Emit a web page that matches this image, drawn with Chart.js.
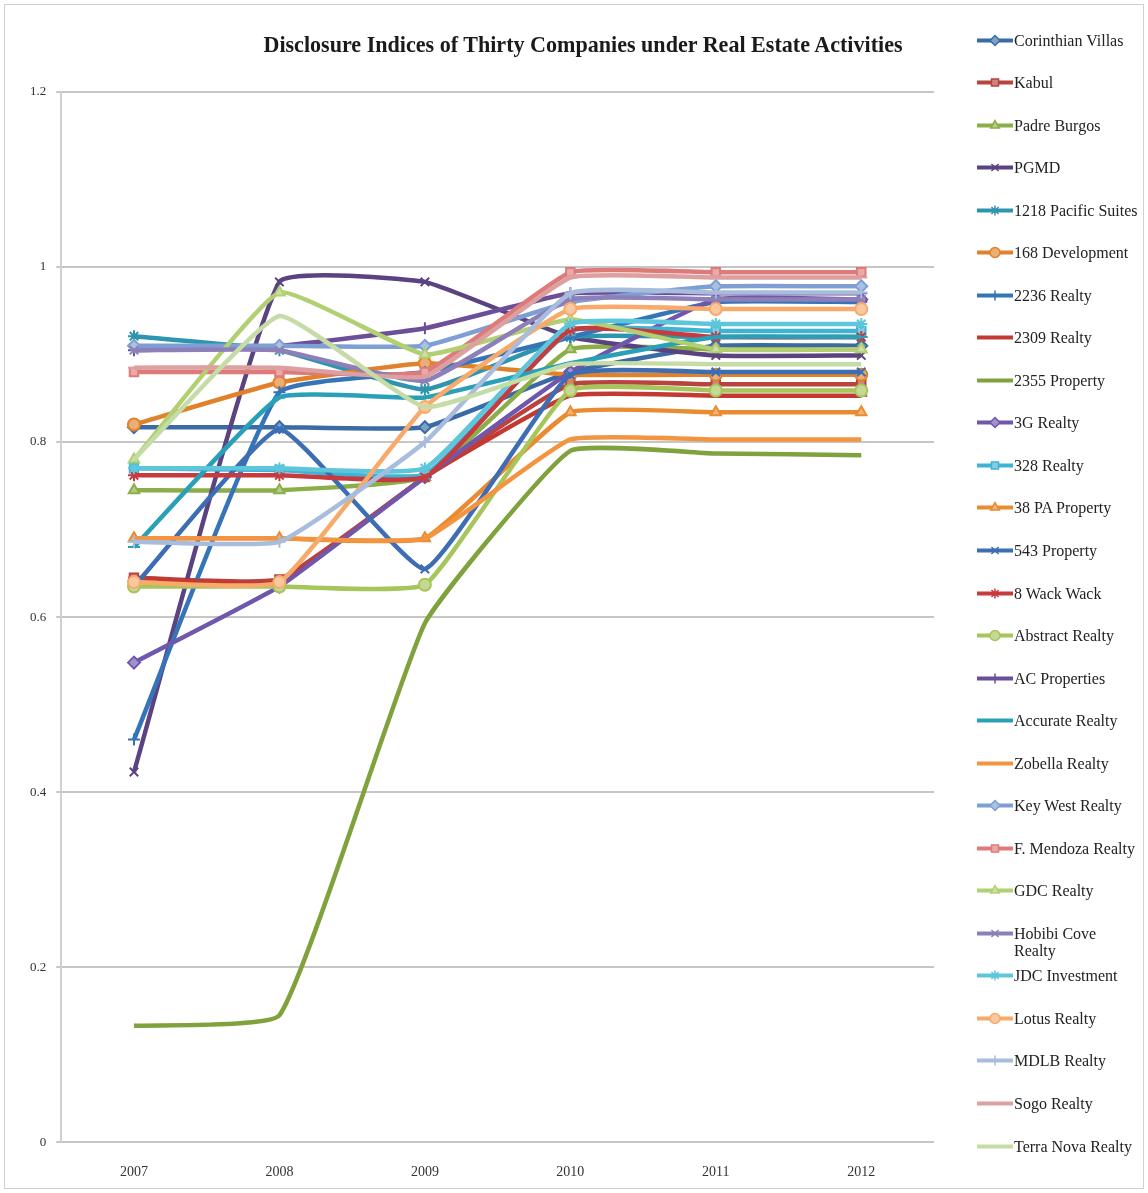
<!DOCTYPE html>
<html lang="en">
  <head>
    <meta charset="UTF-8" />
    <title>Disclosure Indices</title>
    <script src="https://cdn.jsdelivr.net/npm/chart.js"></script>
    <style>
      body {
        margin: 0;
        background: #fff;
        font-family: "Liberation Serif", "DejaVu Serif", serif;
      }
      .frame {
        position: absolute;
        left: 4px;
        top: 4px;
        width: 1138px;
        height: 1183px;
        border: 1px solid #d0d0d0;
      }
      #grafico {
        position: absolute;
        left: 0;
        top: 0;
      }
      .titulo {
        position: absolute;
        left: 233px;
        top: 31px;
        width: 700px;
        text-align: center;
        font-weight: bold;
        font-size: 24px;
        color: #1a1a1a;
        white-space: nowrap;
        transform: scaleX(0.92);
      }
      .item {
        position: absolute;
        left: 976px;
        font-size: 16px;
        line-height: 17px;
        color: #222;
        white-space: pre;
      }
      .item canvas {
        position: absolute;
        left: 0;
        top: 0;
      }
      .item span {
        display: block;
        margin-left: 38px;
      }
    </style>
  </head>
  <body>
    <div class="frame"></div>
    <canvas id="grafico" width="1148" height="1193"></canvas>
    <div class="titulo">Disclosure Indices of Thirty Companies under Real Estate Activities</div>
    <div id="legenda"></div>

    <script>
      const anos = ["2007", "2008", "2009", "2010", "2011", "2012"];
      const ticksY = [0, 0.2, 0.4, 0.6, 0.8, 1, 1.2];

      const empresas = [
        "Corinthian Villas", "Kabul", "Padre Burgos", "PGMD",
        "1218 Pacific Suites", "168 Development", "2236 Realty",
        "2309 Realty", "2355 Property", "3G Realty", "328 Realty",
        "38 PA Property", "543 Property", "8 Wack Wack", "Abstract Realty",
        "AC Properties", "Accurate Realty", "Zobella Realty",
        "Key West Realty", "F. Mendoza Realty", "GDC Realty",
        "Hobibi Cove\nRealty", "JDC Investment", "Lotus Realty",
        "MDLB Realty", "Sogo Realty", "Terra Nova Realty",
      ];

      // indices por empresa, 2007..2012
      const corinthianVillas = [0.817, 0.817, 0.817, 0.88, 0.91, 0.91];
      const kabul = [0.645, 0.643, 0.76, 0.866, 0.866, 0.866];
      const padreBurgos = [0.745, 0.745, 0.76, 0.906, 0.906, 0.906];
      const pgmd = [0.423, 0.983, 0.983, 0.92, 0.899, 0.899];
      const pacificSuites = [0.921, 0.905, 0.86, 0.92, 0.92, 0.92];
      const development168 = [0.82, 0.868, 0.89, 0.877, 0.877, 0.877];
      const realty2236 = [0.46, 0.857, 0.88, 0.92, 0.96, 0.96];
      const realty2309 = [0.645, 0.64, 0.76, 0.853, 0.853, 0.853];
      const property2355 = [0.133, 0.145, 0.593, 0.79, 0.787, 0.785];
      const realty3g = [0.548, 0.635, 0.76, 0.88, 0.963, 0.963];
      const realty328 = [0.77, 0.768, 0.763, 0.927, 0.927, 0.927];
      const paProperty38 = [0.69, 0.69, 0.69, 0.834, 0.834, 0.834];
      const property543 = [0.635, 0.815, 0.655, 0.877, 0.88, 0.88];
      const wackWack = [0.762, 0.762, 0.76, 0.928, 0.92, 0.92];
      const abstractRealty = [0.635, 0.635, 0.637, 0.859, 0.859, 0.859];
      const acProperties = [0.905, 0.91, 0.93, 0.97, 0.97, 0.97];
      const accurateRealty = [0.68, 0.851, 0.851, 0.89, 0.92, 0.92];
      const zobellaRealty = [0.69, 0.69, 0.69, 0.803, 0.803, 0.803];
      const keyWestRealty = [0.91, 0.91, 0.91, 0.96, 0.978, 0.978];
      const mendozaRealty = [0.88, 0.88, 0.88, 0.994, 0.994, 0.994];
      const gdcRealty = [0.78, 0.971, 0.9, 0.94, 0.906, 0.906];
      const hobibiRealty = [0.905, 0.905, 0.87, 0.963, 0.963, 0.963];
      const jdcInvestment = [0.77, 0.77, 0.77, 0.935, 0.935, 0.935];
      const lotusRealty = [0.64, 0.64, 0.84, 0.952, 0.952, 0.952];
      const mdlbRealty = [0.686, 0.686, 0.8, 0.97, 0.971, 0.971];
      const sogoRealty = [0.885, 0.885, 0.875, 0.988, 0.988, 0.988];
      const terraNovaRealty = [0.78, 0.944, 0.84, 0.889, 0.889, 0.889];

      const valores = [
        corinthianVillas, kabul, padreBurgos, pgmd, pacificSuites,
        development168, realty2236, realty2309, property2355, realty3g,
        realty328, paProperty38, property543, wackWack, abstractRealty,
        acProperties, accurateRealty, zobellaRealty, keyWestRealty,
        mendozaRealty, gdcRealty, hobibiRealty, jdcInvestment, lotusRealty,
        mdlbRealty, sogoRealty, terraNovaRealty,
      ];

      const cores = [
        "#3a6ba5", "#b8433f", "#8cae48", "#5b4382", "#2e95ae", "#e0822a",
        "#3574b8", "#c23a32", "#7fa23c", "#7057ae", "#3fb3d6", "#e98b30",
        "#3d6db3", "#c73a3e", "#a6c55a", "#6b4f98", "#2aa0b8", "#f39540",
        "#7e9fd3", "#de7a7a", "#b2cf72", "#8d80b8", "#5ec6da", "#f7aa6a",
        "#a8bcdd", "#dda0a0", "#c6dca6",
      ];
      // sequencia de marcadores do Excel
      const marcadores = ["rectRot", "rect", "triangle", "crossRot", "star",
        "circle", "cross", "line", false];

      function clarear(hex, f) {
        const n = parseInt(hex.slice(1), 16);
        const r = (n >> 16) & 255, g = (n >> 8) & 255, b = n & 255;
        const m = (c) => Math.round(c + (255 - c) * f);
        return "rgb(" + m(r) + "," + m(g) + "," + m(b) + ")";
      }

      const datasets = valores.map((v, i) => {
        const estilo = marcadores[i % marcadores.length];
        return {
          label: empresas[i],
          data: v,
          borderColor: cores[i],
          backgroundColor: clarear(cores[i], 0.35),
          borderWidth: 4.5,
          tension: 0.12,
          pointStyle: estilo,
          pointRadius: estilo ? 6 : 0,
          pointBorderWidth: 2,
          pointBorderColor: cores[i],
          pointBackgroundColor: clarear(cores[i], 0.35),
          order: valores.length - i,
        };
      });

      const ctx = document.getElementById("grafico").getContext("2d");
      const grafico = new Chart(ctx, {
        type: "line",
        data: { labels: anos, datasets: datasets },
        options: {
          responsive: false,
          animation: false,
          layout: { padding: { top: 92, left: 20, right: 214, bottom: -2 } },
          plugins: {
            legend: { display: false },
            tooltip: { enabled: false },
          },
          scales: {
            x: {
              offset: true,
              grid: { display: false },
              border: { display: false },
              ticks: {
                padding: 14,
                color: "#333",
                font: { family: "Liberation Serif", size: 14 },
              },
            },
            y: {
              min: 0,
              max: 1.2,
              afterBuildTicks: (eixo) => {
                eixo.ticks = ticksY.map((v) => ({ value: v }));
              },
              grid: {
                color: "#c6c6c6",
                lineWidth: 2,
                tickLength: 5,
                tickColor: "#c6c6c6",
              },
              border: { color: "#d0d0d0", width: 2 },
              ticks: {
                padding: 10,
                color: "#333",
                font: { family: "Liberation Serif", size: 13 },
                callback: (v) => String(Math.round(v * 10) / 10),
              },
            },
          },
        },
      });

      // legenda ao lado, no estilo do Excel
      const legenda = document.getElementById("legenda");
      const passo = 42.54;
      datasets.forEach((ds, i) => {
        const item = document.createElement("div");
        item.className = "item";
        item.style.top = 40 + i * passo - 8.5 + "px";
        const c = document.createElement("canvas");
        c.width = 38;
        c.height = 17;
        const g = c.getContext("2d");
        g.strokeStyle = ds.borderColor;
        g.lineWidth = 4;
        g.beginPath();
        g.moveTo(1, 8.5);
        g.lineTo(37, 8.5);
        g.stroke();
        if (ds.pointStyle && Chart.helpers && Chart.helpers.drawPoint) {
          g.fillStyle = ds.pointBackgroundColor;
          g.strokeStyle = ds.pointBorderColor;
          g.lineWidth = 1.5;
          Chart.helpers.drawPoint(
            g,
            { pointStyle: ds.pointStyle, radius: 5, borderWidth: 1.5, rotation: 0 },
            19,
            8.5
          );
        }
        item.appendChild(c);
        const t = document.createElement("span");
        t.textContent = ds.label;
        item.appendChild(t);
        legenda.appendChild(item);
      });
    </script>
  </body>
</html>
